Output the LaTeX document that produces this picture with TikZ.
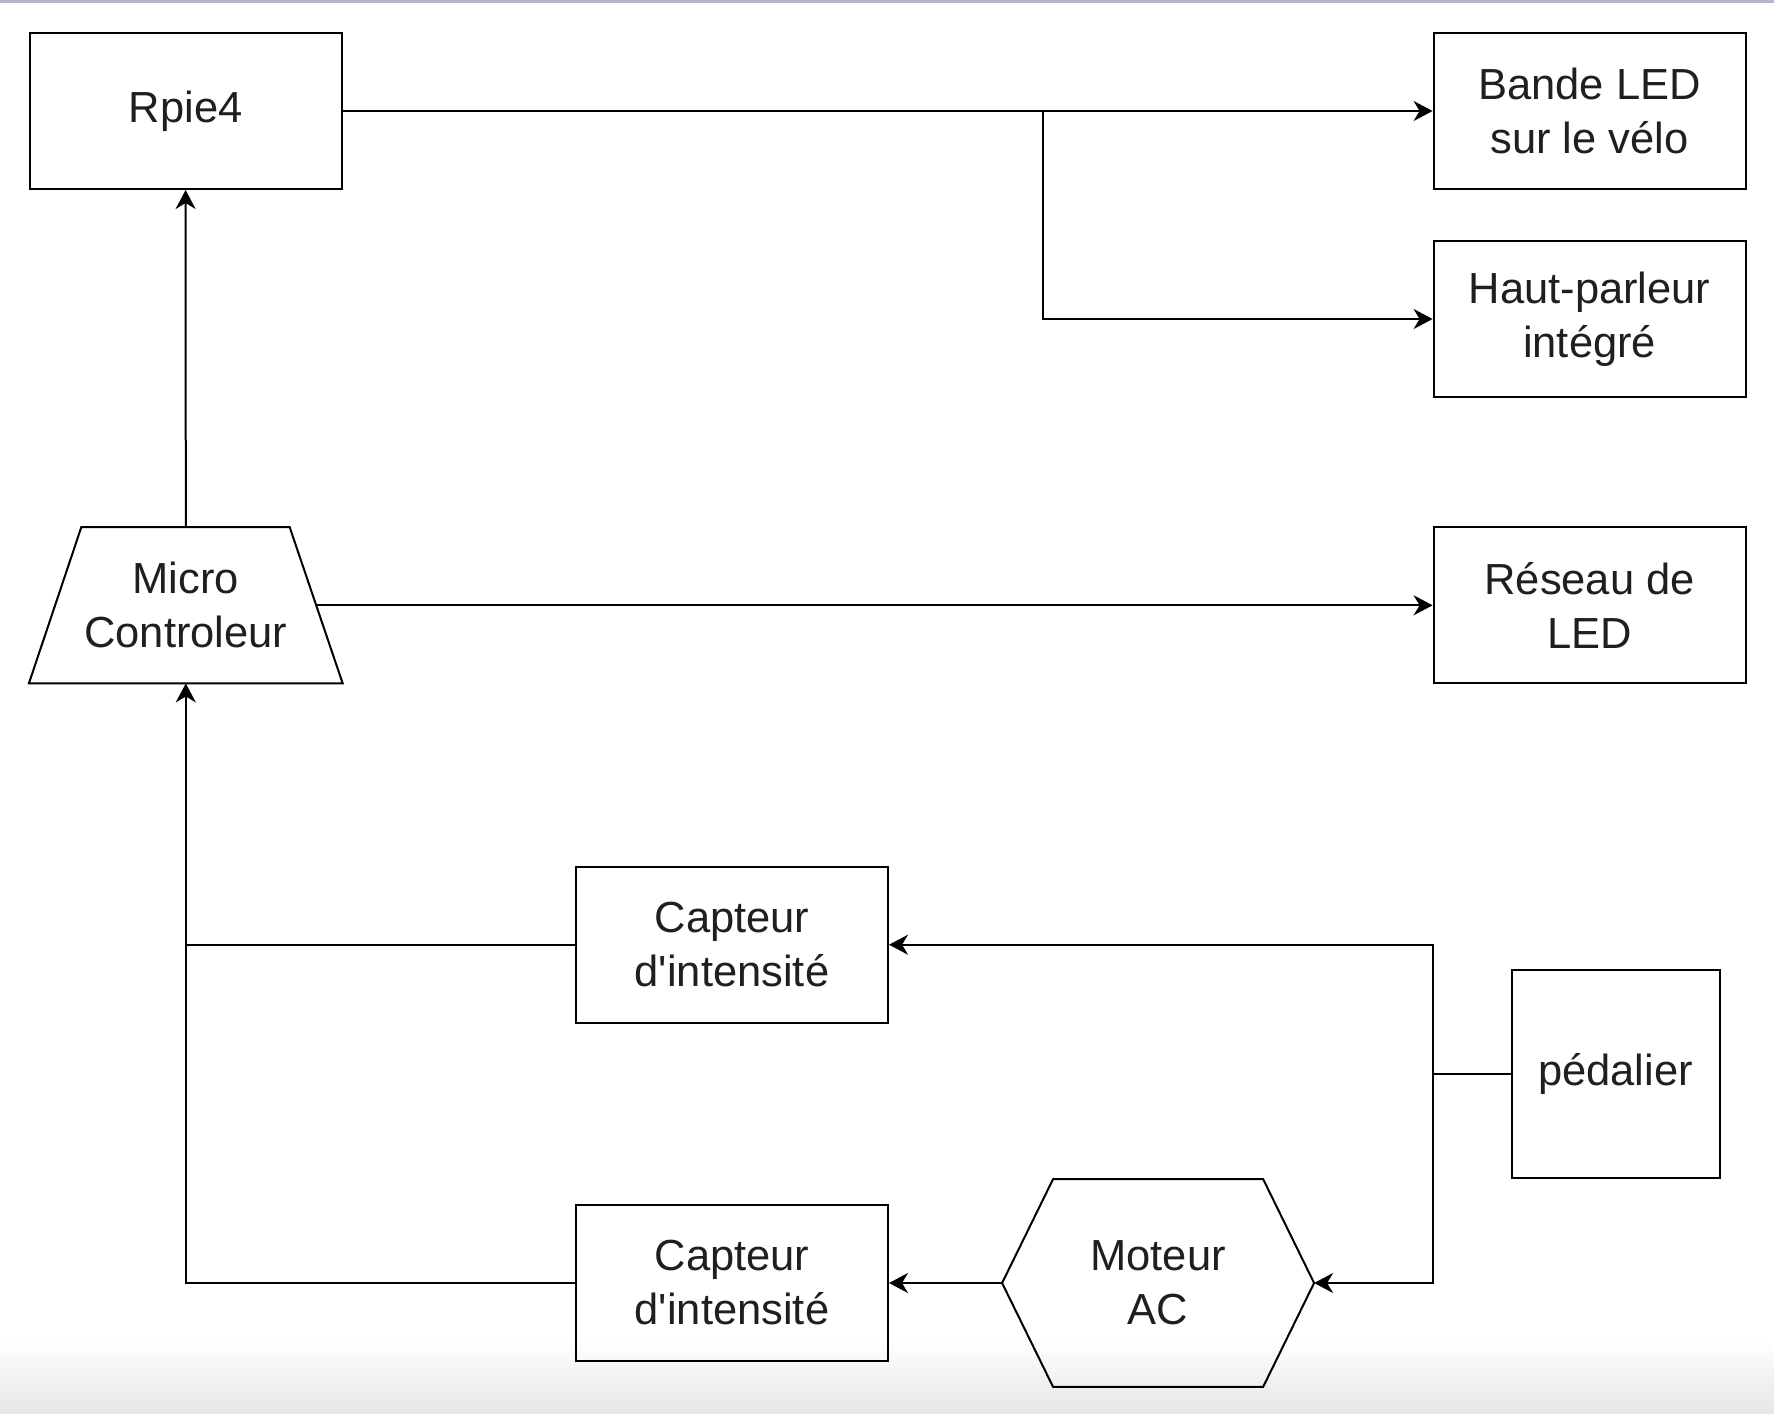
\documentclass[tikz,border=0pt]{standalone}
\usepackage{fontspec}
\newfontfamily\labelfont{Liberation Sans}
\usetikzlibrary{arrows.meta,calc}
\definecolor{topband}{RGB}{184,180,204}
\begin{document}
\begin{tikzpicture}[x=0.5pt,y=-0.5pt,
  txt/.style={font=\labelfont\fontsize{21.75}{27}\selectfont, text=black!88, align=center, inner sep=0pt},
  box/.style={txt, draw, line width=1pt, minimum width=156pt, minimum height=78pt},
  ghost/.style={txt, draw=none},
  outline/.style={line width=1pt, line join=miter},
  conn/.style={line width=1pt},
  arr/.style={conn, -{Stealth[length=9.5pt,width=10pt,inset=3pt]}}]
% canvas
\fill[white] (0,0) rectangle (1774,1414);
\useasboundingbox (0,0) rectangle (1774,1414);
\fill[topband] (0,0) rectangle (1774,2.5);
\shade[top color=white, bottom color=black!10] (0,1340) rectangle (1774,1414);

% nodes
\node[box] (rpie) at (185.6,111) {Rpie4};
\node[box] (bande) at (1589.6,111) {Bande LED\\sur le vélo};
\node[box] (haut) at (1589.6,319) {Haut-parleur\\intégré};
\node[box] (reseau) at (1589.6,605.3) {Réseau de\\LED};
\node[ghost, minimum width=156.5pt, minimum height=77.7pt] (micro) at (185.8,605.3) {Micro\\Controleur};
\node[box] (cap1) at (732,944.7) {Capteur\\d'intensité};
\node[box] (cap2) at (732,1283) {Capteur\\d'intensité};
\node[box, minimum width=104.1pt, minimum height=104.1pt] (ped) at (1615.6,1073.7) {pédalier};
\node[ghost, minimum width=155.6pt, minimum height=103.55pt] (mot) at (1158.1,1283) {Moteur\\AC};

% trapezoid outline of the micro-controller
\coordinate (mtl) at ($(micro.north west)+(52.4,0)$);
\coordinate (mtr) at ($(micro.north east)+(-53,0)$);
\draw[outline] (micro.south west) -- (mtl) -- (mtr) -- (micro.south east) -- cycle;
\coordinate (mr) at ($(mtr)!0.5!(micro.south east)$);

% hexagon outline of the motor
\draw[outline] (mot.west) -- ($(mot.north west)+(51,0)$) -- ($(mot.north east)+(-51,0)$)
  -- (mot.east) -- ($(mot.south east)+(-51,0)$) -- ($(mot.south west)+(51,0)$) -- cycle;

% junctions
\coordinate (jt) at (1043.4,111);
\coordinate (jl) at (micro.south |- cap1.west);
\coordinate (jr) at (bande.west |- ped.west);

% connectors
\draw[arr] (rpie.east) -- (bande.west);
\draw[arr] (jt) |- (haut.west);
\draw[arr] (micro.north) -- (rpie.south);
\draw[arr] (mr) -- (reseau.west);
\draw[arr] (cap1.west) -| (micro.south);
\draw[conn] (cap2.west) -| (jl);
\draw[conn] (ped.west) -- (jr);
\draw[arr] (jr) |- (cap1.east);
\draw[arr] (jr) |- (mot.east);
\draw[arr] (mot.west) -- (cap2.east);
\end{tikzpicture}
\end{document}
